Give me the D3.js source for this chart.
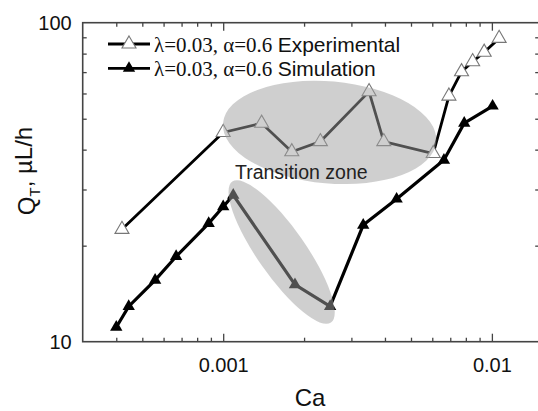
<!DOCTYPE html>
<html>
<head>
<meta charset="utf-8">
<script src="https://cdn.jsdelivr.net/npm/d3@7"></script>
<style>
  body { margin: 0; background: #fff; }
  text { font-family: "Liberation Sans", Arial, sans-serif; fill: #111; }
</style>
</head>
<body>
<div id="chart"></div>
<script>
// experimental (open triangles)
var expCa = [0.00042, 0.001, 0.00139, 0.0018, 0.0023, 0.00349, 0.00396, 0.00605, 0.00692, 0.00771, 0.00848, 0.00936, 0.01064];
var expQ  = [22.5, 45.3, 48.4, 39.4, 42.4, 60.8, 42.4, 38.9, 58.9, 70.2, 75.5, 80.8, 89.3];
// simulation (filled triangles)
var simCa = [0.0004, 0.000445, 0.000558, 0.000668, 0.000883, 0.001, 0.00109, 0.00185, 0.0025, 0.00332, 0.00442, 0.00663, 0.00789, 0.01006];
var simQ  = [11.1, 12.9, 15.6, 18.5, 23.5, 26.5, 28.8, 15.1, 12.9, 23.2, 28.0, 37.1, 48.4, 54.8];

var xMajor = [0.001, 0.01];
var xMinor = [0.0004, 0.0005, 0.0006, 0.0007, 0.0008, 0.0009, 0.002, 0.003, 0.004, 0.005, 0.006, 0.007, 0.008, 0.009];
var yMajor = [10, 100];
var yMinor = [20, 30, 40, 50, 60, 70, 80, 90];
var legendLabels = ["Experimental", "Simulation"];

var W = 538, H = 411;
var pLeft = 82.7, pRight = 539.2, pTop = 22.7, pBottom = 341.7;

var svg = d3.select("#chart").append("svg")
  .attr("width", W).attr("height", H);

var x = d3.scaleLog().domain([0.0003, 0.015]).range([pLeft, pRight]);
var y = d3.scaleLog().domain([10, 100]).range([pBottom, pTop]);

var exp = expCa.map(function (d, i) { return [d, expQ[i]]; });
var sim = simCa.map(function (d, i) { return [d, simQ[i]]; });

var line = d3.line()
  .x(function (d) { return x(d[0]); })
  .y(function (d) { return y(d[1]); });

// lines
svg.append("path").datum(exp).attr("d", line)
  .attr("fill", "none").attr("stroke", "#000").attr("stroke-width", 2.8);
svg.append("path").datum(sim).attr("d", line)
  .attr("fill", "none").attr("stroke", "#000").attr("stroke-width", 3.2);

var triOpen = d3.symbol().type(d3.symbolTriangle).size(85);
var triFull = d3.symbol().type(d3.symbolTriangle).size(66);

svg.selectAll(".expPt").data(exp).enter().append("path")
  .attr("class", "expPt")
  .attr("d", triOpen)
  .attr("transform", function (d) { return "translate(" + x(d[0]) + "," + y(d[1]) + ")"; })
  .attr("fill", "#fff").attr("stroke", "#777").attr("stroke-width", 1.1);

svg.selectAll(".simPt").data(sim).enter().append("path")
  .attr("class", "simPt")
  .attr("d", triFull)
  .attr("transform", function (d) { return "translate(" + x(d[0]) + "," + y(d[1]) + ")"; })
  .attr("fill", "#000");

// shaded zones drawn on top
svg.append("ellipse")
  .attr("cx", x(0.00249)).attr("cy", y(45.3))
  .attr("rx", 107).attr("ry", 51)
  .attr("transform", "rotate(5," + x(0.00249) + "," + y(45.3) + ")")
  .attr("fill", "rgb(160,160,160)").attr("opacity", 0.5);

svg.append("ellipse")
  .attr("cx", x(0.00165)).attr("cy", y(19.1))
  .attr("rx", 86).attr("ry", 24)
  .attr("transform", "rotate(55," + x(0.00165) + "," + y(19.1) + ")")
  .attr("fill", "rgb(160,160,160)").attr("opacity", 0.5);

svg.append("text")
  .attr("x", 235).attr("y", 179)
  .style("font-size", "19.5px").style("fill", "#222")
  .text("Transition zone");

// frame
svg.append("rect")
  .attr("x", pLeft).attr("y", pTop)
  .attr("width", pRight - pLeft).attr("height", pBottom - pTop)
  .attr("fill", "none").attr("stroke", "#444").attr("stroke-width", 1.6);

function styleAxis(g) {
  g.select(".domain").remove();
  g.selectAll(".tick line").attr("stroke", "#444").attr("stroke-width", 1.3);
  g.selectAll("text").style("font-size", "20px").style("fill", "#111")
    .style("font-family", "'Liberation Sans', Arial, sans-serif");
}

// bottom
svg.append("g").attr("transform", "translate(0," + pBottom + ")")
  .call(d3.axisBottom(x).tickValues(xMinor).tickSize(-4).tickFormat(""))
  .call(styleAxis);
svg.append("g").attr("transform", "translate(0," + pBottom + ")")
  .call(d3.axisBottom(x).tickValues(xMajor).tickSize(-8).tickPadding(16)
    .tickFormat(function (d) { return String(d); }))
  .call(styleAxis);
// top
svg.append("g").attr("transform", "translate(0," + pTop + ")")
  .call(d3.axisTop(x).tickValues(xMinor).tickSize(-4).tickFormat(""))
  .call(styleAxis);
svg.append("g").attr("transform", "translate(0," + pTop + ")")
  .call(d3.axisTop(x).tickValues(xMajor).tickSize(-8).tickFormat(""))
  .call(styleAxis);
// left
svg.append("g").attr("transform", "translate(" + pLeft + ",0)")
  .call(d3.axisLeft(y).tickValues(yMinor).tickSize(-4).tickFormat(""))
  .call(styleAxis);
svg.append("g").attr("transform", "translate(" + pLeft + ",0)")
  .call(d3.axisLeft(y).tickValues(yMajor).tickSize(0).tickPadding(11)
    .tickFormat(function (d) { return String(d); }))
  .call(styleAxis);
// right
svg.append("g").attr("transform", "translate(" + pRight + ",0)")
  .call(d3.axisRight(y).tickValues(yMinor).tickSize(-4).tickFormat(""))
  .call(styleAxis);

// axis titles
svg.append("text")
  .attr("x", 310).attr("y", 406)
  .attr("text-anchor", "middle")
  .style("font-size", "24px")
  .text("Ca");

var yl = svg.append("text")
  .attr("transform", "translate(35,171) rotate(-90)")
  .attr("text-anchor", "middle")
  .style("font-size", "24px");
yl.append("tspan").text("Q");
yl.append("tspan").attr("dy", "0.3em").style("font-size", "15px").text("T");
yl.append("tspan").attr("dy", "-0.3em").text(", \u00b5L/h");

// legend
var leg = svg.selectAll(".leg").data(legendLabels).enter().append("g")
  .attr("class", "leg")
  .attr("transform", function (d, i) { return "translate(108," + (44 + i * 24.3) + ")"; });
leg.append("line").attr("x1", 0).attr("x2", 42).attr("y1", 0).attr("y2", 0)
  .attr("stroke", "#000").attr("stroke-width", 2.8);
leg.append("path")
  .attr("d", function (d, i) { return i === 0 ? triOpen() : triFull(); })
  .attr("transform", "translate(21,0)")
  .attr("fill", function (d, i) { return i === 0 ? "#fff" : "#000"; })
  .attr("stroke", function (d, i) { return i === 0 ? "#777" : "none"; })
  .attr("stroke-width", 1.1);
var lt = leg.append("text").attr("x", 46).attr("y", 7.5).style("font-size", "21px");
lt.append("tspan").style("font-family", "'Liberation Serif', 'Times New Roman', serif")
  .text("\u03bb=0.03, \u03b1=0.6 ");
lt.append("tspan").text(function (d) { return d; });
</script>
</body>
</html>
